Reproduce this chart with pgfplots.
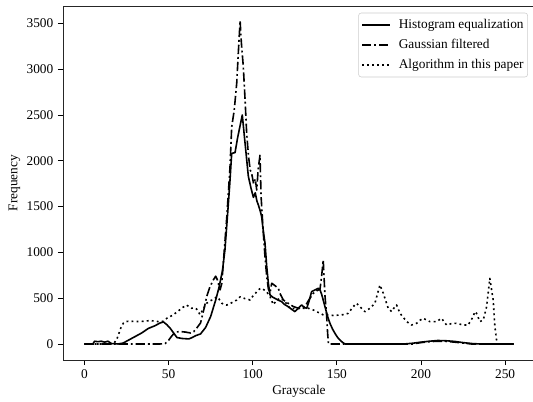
\documentclass[border=0pt]{standalone}
\usepackage{fontspec}
\setmainfont{Liberation Serif}
\usepackage{pgfplots}
\pgfplotsset{compat=1.18}

% Histogram equalization
\pgfplotstableread{
x y
0 0
5 0
6 30
8 25
10 30
12 20
14 30
16 5
20 0
23 10
26 40
30 80
34 120
38 170
42 200
45 230
47 240
49 210
51 170
53 120
55 70
58 60
62 55
64 70
66 90
69 110
72 180
75 300
78 480
80 620
82 800
83.5 1030
85 1400
86.4 1760
87.5 2080
89.5 2090
91 2250
93.8 2500
95.4 2200
97.4 1830
99 1700
100.4 1600
101.5 1650
102.5 1560
103.3 1520
104.5 1450
105.3 1390
106.3 1230
107.3 1100
108.3 850
109.3 660
110.3 535
112 510
113.2 498
115 480
117.2 462
119 430
121.1 407
123 380
125.1 353
127 390
129.1 426
130.5 400
132.1 390
133.5 470
135 571
137 590
139 608
140 590
141 540
142.9 410
144.5 300
145.9 225
147.5 160
148.9 115
150.5 70
151.8 45
153.5 15
155 0
190 0
195 8
200 20
205 30
210 38
215 35
220 28
225 15
230 5
235 0
255 0
}\histeq

% Gaussian filtered
\pgfplotstableread{
x y
0 0
45 0
48 5
50 40
52 90
54 130
57 135
60 130
63 120
65 135
67 180
69 230
71 380
72.7 520
74.5 620
76.6 700
78 740
79 700
80.6 590
81.6 660
83 1000
84.6 1390
86.5 1930
87.5 2370
89 2550
90.5 2850
91.5 3200
92.5 3530
93.2 3300
94.4 3030
95.5 2650
96.4 2300
97.5 2050
98.5 1900
99.4 1860
100.5 1750
101.5 1800
102.4 1680
103.2 1900
104.3 2060
105 1600
106.3 1210
107.3 950
108.3 740
109.3 600
110.3 560
111.3 663
113 640
115.2 608
116.5 540
118.2 480
121.1 444
124 410
127.1 390
129 400
131 407
133 470
136 553
138 580
140 600
141 750
141.9 917
142.9 535
143.9 317
144.5 120
145 0
195 0
200 15
205 25
210 30
215 28
220 20
225 10
230 0
255 0
}\gauss

% Algorithm in this paper
\pgfplotstableread{
x y
0 0
17 0
19 40
20.2 100
21.5 170
23.2 230
25 245
27 250
30 245
33 245
36 250
39 255
42 250
45 240
47 250
48.9 280
51 300
52.9 320
55 350
56.8 375
58.5 400
60.8 425
62.5 400
63.7 390
65.5 395
66.7 380
68.7 320
70.5 380
72.7 445
74.5 470
76.6 485
78.6 515
80 490
81.6 445
83 430
84.6 425
86.5 440
88.5 460
90.5 480
92.5 515
94 505
95.4 495
97 490
98.4 480
100 520
102.4 570
104 600
105.3 608
106.8 590
108.3 570
110.3 516
112.2 430
114 470
116 500
117.2 498
119.2 462
122.1 390
126 385
130 390
133 390
136 371
140 335
142 317
145.9 317
148 310
151.8 317
154 320
156.8 335
159.7 407
161.7 444
163.7 407
166.7 353
169.7 390
172.6 444
175.6 644
177.6 553
180.5 390
182.5 353
184.5 407
185.5 426
187.5 335
189.5 290
191.5 244
194.4 207
197.4 226
199.5 260
201.3 280
203 265
205.3 244
209.2 244
212.2 280
215.2 207
218 222
221.1 226
225.1 207
228 207
231 298
232 353
233 335
235 244
237 262
239 407
240.9 717
242.9 480
243.9 189
244.9 44
245.5 0
255 0
}\algo

\begin{document}
\begin{tikzpicture}
\useasboundingbox (-47.25pt,-30.75pt) rectangle (352.5pt,270pt);
\begin{axis}[
  at={(0pt,0pt)}, anchor=south west,
  scale only axis,
  width=354pt, height=265.5pt,
  xmin=-12.75, xmax=267.75,
  ymin=-175, ymax=3690,
  xtick={0,50,...,250},
  ytick={0,500,...,3500},
  xtick pos=bottom, ytick pos=left,
  tick align=outside,
  major tick length=3.75pt,
  tick style={black, line width=0.6pt},
  axis line style={black!85, line width=0.7pt},
  /pgf/number format/1000 sep={},
  /pgf/number format/assume math mode=true,
  tick label style={font=\fontsize{10}{12}\selectfont},
  label style={font=\fontsize{10}{12}\selectfont},
  xlabel={Grayscale},
  ylabel={Frequency},
  xlabel style={yshift=2pt},
  ylabel style={yshift=-2pt},
  legend cell align=left,
  legend style={
    at={(0.985,0.981)}, anchor=north east,
    draw=black!20, rounded corners=2pt, fill=white,
    inner xsep=2pt, inner ysep=2.5pt,
    row sep=2pt, column sep=5pt,
    font=\fontsize{10}{12}\selectfont,
    nodes={inner xsep=1pt, inner ysep=1.5pt, text height=7.5pt, text depth=2.5pt},
  },
  legend image code/.code={\draw[#1] (0pt,0pt) -- (21pt,0pt);},
  every axis plot/.append style={black, line width=1.2pt, line join=round},
]
\addplot[solid] table[x=x,y=y] {\histeq};
\addlegendentry{Histogram equalization}
\addplot[dash pattern=on 7pt off 2.2pt on 1.4pt off 2.2pt] table[x=x,y=y] {\gauss};
\addlegendentry{Gaussian filtered}
\addplot[dash pattern=on 1.4pt off 2.4pt] table[x=x,y=y] {\algo};
\addlegendentry{Algorithm in this paper}
\end{axis}
\end{tikzpicture}
\end{document}
